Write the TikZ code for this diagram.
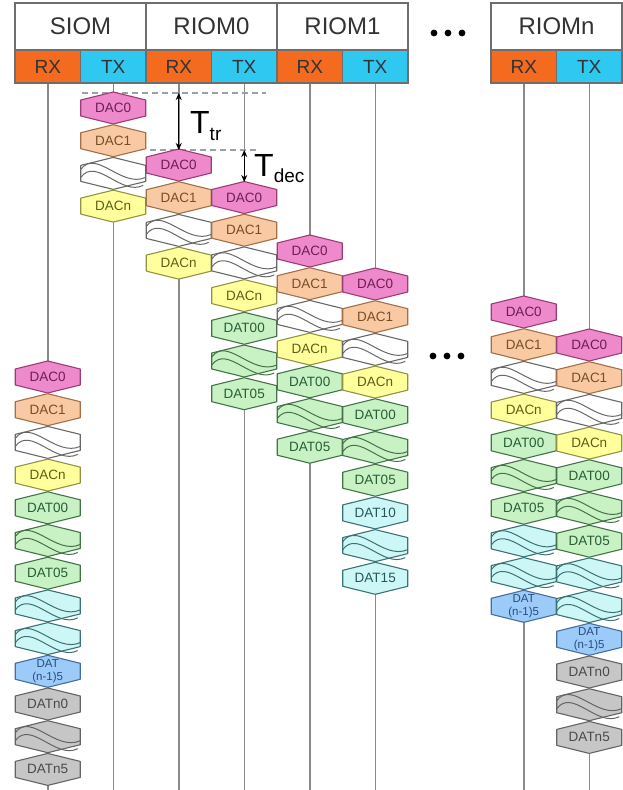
\documentclass[tikz,border=0pt]{standalone}
\usepackage{fontspec}
\setmainfont{Liberation Sans}
\usetikzlibrary{arrows.meta}
\definecolor{rxc}{HTML}{F46A1F}
\definecolor{txc}{HTML}{2EC8F0}
\definecolor{hdrline}{HTML}{6E6E6E}
\definecolor{hdrtext}{HTML}{333333}
\definecolor{tlc}{HTML}{8A8A8A}
\definecolor{dashc}{HTML}{9AA0A8}
% DAC0
\definecolor{dzf}{HTML}{EE8ACB}\definecolor{dzd}{HTML}{9C3C75}\definecolor{dzt}{HTML}{6E1E55}
% DAC1
\definecolor{dof}{HTML}{F8C9A2}\definecolor{dod}{HTML}{A07048}\definecolor{dot}{HTML}{7A4E24}
% DACn
\definecolor{dnf}{HTML}{FFFF9C}\definecolor{dnd}{HTML}{929244}\definecolor{dnt}{HTML}{5E5E18}
% DAT green
\definecolor{dgf}{HTML}{C9F2C4}\definecolor{dgd}{HTML}{44724A}\definecolor{dgt}{HTML}{265E36}
% DAT cyan
\definecolor{dcf}{HTML}{CDF6F6}\definecolor{dcd}{HTML}{3C7274}\definecolor{dct}{HTML}{24585C}
% DAT blue
\definecolor{dbf}{HTML}{9CCBFA}\definecolor{dbd}{HTML}{456E9A}\definecolor{dbt}{HTML}{244C82}
% DAT gray
\definecolor{dkf}{HTML}{C6C6C6}\definecolor{dkd}{HTML}{646464}\definecolor{dkt}{HTML}{4A4A4A}
% white wave
\definecolor{dwf}{HTML}{FFFFFF}\definecolor{dwd}{HTML}{686868}\definecolor{dwt}{HTML}{4A4A4A}

\tikzset{
  hexs/.style={fill=#1f, draw=#1d, line width=1.1pt, line join=round},
  wline/.style={draw=#1d, line width=1.0pt},
  lab/.style={inner sep=0pt, font=\fontsize{13.5}{11.5}\selectfont, align=center},
  lab2/.style={inner sep=0pt, font=\fontsize{11.5}{13}\selectfont, align=center},
  hdr/.style={draw=hdrline, line width=1.2pt, fill=white, minimum width=131pt, minimum height=47pt, inner sep=0pt, text=hdrtext, font=\fontsize{24}{24}\selectfont},
  rxbox/.style={draw=hdrline, line width=1.2pt, fill=rxc, minimum width=65.5pt, minimum height=33pt, inner sep=0pt, text=hdrtext, font=\fontsize{19}{19}\selectfont},
  txbox/.style={rxbox, fill=txc},
  tl/.style={draw=tlc, line width=1.5pt},
  dashline/.style={draw=dashc, line width=1.4pt, dash pattern=on 6pt off 4pt},
  dim/.style={draw=black, line width=1.1pt, {Stealth[length=7pt,width=6pt]}-{Stealth[length=7pt,width=6pt]}},
  tlabel/.style={inner sep=0pt, anchor=base west, text=black}
}

\newcommand\setcol[2]{\def\colx{#1}\def\coly{#2}}
\newcommand\hexpath[1]{\path[hexs=#1] (\colx-32.5,\coly-8) -- (\colx,\coly-16) -- (\colx+32.5,\coly-8) -- (\colx+32.5,\coly+8) -- (\colx,\coly+16) -- (\colx-32.5,\coly+8) -- cycle;}
\newcommand\cell[3]{\hexpath{#2}\node[lab,text=#2t] (#1) at (\colx,\coly) {#3};\pgfmathsetmacro\coly{\coly+32.7}}
\newcommand\celltwo[3]{\hexpath{#2}\node[lab2,text=#2t] (#1) at (\colx,\coly) {#3};\pgfmathsetmacro\coly{\coly+32.7}}
\newcommand\wv[2]{\hexpath{#2}\coordinate (#1) at (\colx,\coly);%
  \draw[wline=#2] (\colx-32.5,\coly-4) .. controls (\colx-17,\coly-25) and (\colx+8,\coly+15) .. (\colx+32.5,\coly+4);%
  \draw[wline=#2] (\colx-32.5,\coly+4) .. controls (\colx-17,\coly-17) and (\colx+8,\coly+23) .. (\colx+30,\coly+12);%
  \pgfmathsetmacro\coly{\coly+32.7}}

\begin{document}
\begin{tikzpicture}[x=1pt,y=-1pt]
\useasboundingbox (0,0) rectangle (623,790);
\fill[white] (0,0) rectangle (623,790);

% header
\node[hdr] (siom) at (80.5,26.5) {SIOM};
\node[hdr] (riom0) at (211.5,26.5) {RIOM0};
\node[hdr] (riom1) at (342.5,26.5) {RIOM1};
\node[hdr] (riomn) at (556.5,26.5) {RIOMn};
\node[rxbox] (rxS) at (47.75,66.5) {RX};
\node[txbox] (txS) at (113.25,66.5) {TX};
\node[rxbox] (rx0) at (178.75,66.5) {RX};
\node[txbox] (tx0) at (244.25,66.5) {TX};
\node[rxbox] (rx1) at (309.75,66.5) {RX};
\node[txbox] (tx1) at (375.25,66.5) {TX};
\node[rxbox] (rxn) at (523.75,66.5) {RX};
\node[txbox] (txn) at (589.25,66.5) {TX};

% dots
\fill[black] (434,33) circle (3.4) (448,33) circle (3.4) (462,33) circle (3.4);
\fill[black] (433,356) circle (3.4) (447,356) circle (3.4) (461,356) circle (3.4);

% timelines
\coordinate (bS) at (47.75,790);
\coordinate (bT) at (113.25,790);
\coordinate (b0r) at (178.75,790);
\coordinate (b0t) at (244.25,790);
\coordinate (b1r) at (309.75,790);
\coordinate (b1t) at (375.25,790);
\coordinate (bnr) at (523.75,790);
\coordinate (bnt) at (589.25,790);
\draw[tl] (rxS) -- (bS);
\draw[tl] (txS) -- (bT);
\draw[tl] (rx0) -- (b0r);
\draw[tl] (tx0) -- (b0t);
\draw[tl] (rx1) -- (b1r);
\draw[tl] (tx1) -- (b1t);
\draw[tl] (rxn) -- (bnr);
\draw[tl] (txn) -- (bnt);

% dashed reference lines
\coordinate (da1) at (82,93);
\coordinate (da2) at (266,93);
\coordinate (db1) at (150,150);
\coordinate (db2) at (256,150);
\draw[dashline] (da1) -- (da2);
\draw[dashline] (db1) -- (db2);

% SIOM TX
\setcol{113.25}{108}
\cell{sT0}{dz}{DAC0}\cell{sT1}{do}{DAC1}\wv{sTw}{dw}\cell{sTn}{dn}{DACn}

% RIOM0 RX
\setcol{178.75}{165}
\cell{aR0}{dz}{DAC0}\cell{aR1}{do}{DAC1}\wv{aRw}{dw}\cell{aRn}{dn}{DACn}

% RIOM0 TX
\setcol{244.25}{197.5}
\cell{aT0}{dz}{DAC0}\cell{aT1}{do}{DAC1}\wv{aTw}{dw}\cell{aTn}{dn}{DACn}
\cell{aT00}{dg}{DAT00}\wv{aTwg}{dg}\cell{aT05}{dg}{DAT05}

% RIOM1 RX
\setcol{309.75}{251}
\cell{bR0}{dz}{DAC0}\cell{bR1}{do}{DAC1}\wv{bRw}{dw}\cell{bRn}{dn}{DACn}
\cell{bR00}{dg}{DAT00}\wv{bRwg}{dg}\cell{bR05}{dg}{DAT05}

% RIOM1 TX
\setcol{375.25}{284}
\cell{bT0}{dz}{DAC0}\cell{bT1}{do}{DAC1}\wv{bTw}{dw}\cell{bTn}{dn}{DACn}
\cell{bT00}{dg}{DAT00}\wv{bTwg}{dg}\cell{bT05}{dg}{DAT05}
\cell{bT10}{dc}{DAT10}\wv{bTwc}{dc}\cell{bT15}{dc}{DAT15}

% SIOM RX
\setcol{47.75}{377}
\cell{sR0}{dz}{DAC0}\cell{sR1}{do}{DAC1}\wv{sRw}{dw}\cell{sRn}{dn}{DACn}
\cell{sR00}{dg}{DAT00}\wv{sRwg}{dg}\cell{sR05}{dg}{DAT05}
\wv{sRwc1}{dc}\wv{sRwc2}{dc}\celltwo{sRm}{db}{DAT\\(n-1)5}
\cell{sRn0}{dk}{DATn0}\wv{sRwk}{dk}\cell{sRn5}{dk}{DATn5}

% RIOMn RX
\setcol{523.75}{312}
\cell{nR0}{dz}{DAC0}\cell{nR1}{do}{DAC1}\wv{nRw}{dw}\cell{nRn}{dn}{DACn}
\cell{nR00}{dg}{DAT00}\wv{nRwg}{dg}\cell{nR05}{dg}{DAT05}
\wv{nRwc1}{dc}\wv{nRwc2}{dc}\celltwo{nRm}{db}{DAT\\(n-1)5}

% RIOMn TX
\setcol{589.25}{345}
\cell{nT0}{dz}{DAC0}\cell{nT1}{do}{DAC1}\wv{nTw}{dw}\cell{nTn}{dn}{DACn}
\cell{nT00}{dg}{DAT00}\wv{nTwg}{dg}\cell{nT05}{dg}{DAT05}
\wv{nTwc1}{dc}\wv{nTwc2}{dc}\celltwo{nTm}{db}{DAT\\(n-1)5}
\cell{nTn0}{dk}{DATn0}\wv{nTwk}{dk}\cell{nTn5}{dk}{DATn5}

% timing arrows
\coordinate (tr1) at (178.75,93);
\coordinate (tr2) at (178.75,150);
\coordinate (td1) at (244.25,150);
\coordinate (td2) at (244.25,182);
\draw[dim] (tr1) -- (tr2);
\draw[dim] (td1) -- (td2);
\node[tlabel] (ttr) at (190,133) {\fontsize{32}{32}\selectfont T\raisebox{-7pt}{\fontsize{19}{19}\selectfont tr}};
\node[tlabel] (tdec) at (254,176) {\fontsize{32}{32}\selectfont T\raisebox{-6pt}{\fontsize{19}{19}\selectfont dec}};
\end{tikzpicture}
\end{document}
